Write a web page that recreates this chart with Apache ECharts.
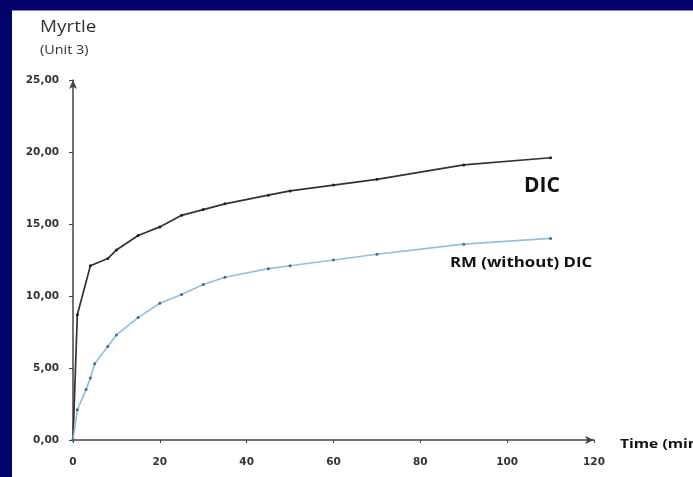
<!DOCTYPE html>
<html>
<head>
<meta charset="utf-8">
<script src="https://cdn.jsdelivr.net/npm/echarts@6/dist/echarts.min.js"></script>
<style>
html,body{margin:0;padding:0;background:#fff;}
#c{width:693px;height:477px;}
</style>
</head>
<body>
<div id="c"></div>
<script>
// Data
var dicX   = [0, 1, 4, 8, 10, 15, 20, 25, 30, 35, 45, 50, 60, 70, 90, 110];
var dicY   = [0, 8.7, 12.1, 12.6, 13.2, 14.2, 14.8, 15.6, 16.0, 16.4, 17.0, 17.3, 17.7, 18.1, 19.1, 19.6];
var rmX    = [0, 1, 3, 4, 5, 8, 10, 15, 20, 25, 30, 35, 45, 50, 60, 70, 90, 110];
var rmY    = [0, 2.1, 3.5, 4.3, 5.3, 6.5, 7.3, 8.5, 9.5, 10.1, 10.8, 11.3, 11.9, 12.1, 12.5, 12.9, 13.6, 14.0];
var seriesNames = ['DIC', 'RM (without) DIC'];
var yTitle = 'Myrtle';
var yUnit = '(Unit 3)';
var xTitle = 'Time (min)';

function pairs(xs, ys){ return xs.map(function(x,i){ return [x, ys[i]]; }); }

var font = '"Open Sans", "Liberation Sans", sans-serif';
var numFont = '"DejaVu Sans", sans-serif';
var chart = echarts.init(document.getElementById('c'));
chart.setOption({
  animation: false,
  backgroundColor: '#ffffff',
  grid: { left: 73, top: 80, right: 99, bottom: 37 },
  xAxis: {
    type: 'value', min: 0, max: 120, interval: 20,
    axisLine: { show: true, symbol: ['none', 'arrow'], symbolSize: [6, 9], lineStyle: { color: '#444', width: 1.5 } },
    axisTick: { show: true, length: 3, inside: false, lineStyle: { color: '#444' } },
    axisLabel: { margin: 17, fontFamily: numFont, fontSize: 10.5, fontWeight: 'bold', color: '#333' },
    splitLine: { show: false }
  },
  yAxis: {
    type: 'value', min: 0, max: 25, interval: 5,
    axisLine: { show: true, symbol: ['none', 'arrow'], symbolSize: [6, 9], lineStyle: { color: '#444', width: 1.5 } },
    axisTick: { show: true, length: 4, lineStyle: { color: '#444' } },
    axisLabel: { margin: 14, fontFamily: numFont, fontSize: 10.5, fontWeight: 'bold', color: '#333',
      formatter: function(v){ return v.toFixed(2).replace('.', ','); } },
    splitLine: { show: false }
  },
  series: [
    { name: seriesNames[0], type: 'line', data: pairs(dicX, dicY),
      symbol: 'circle', symbolSize: 3, showSymbol: true,
      lineStyle: { color: '#333', width: 1.7 }, itemStyle: { color: '#222' } },
    { name: seriesNames[1], type: 'line', data: pairs(rmX, rmY),
      symbol: 'circle', symbolSize: 3, showSymbol: true,
      lineStyle: { color: '#8fc1e0', width: 1.7 }, itemStyle: { color: '#4a6a80' } }
  ],
  graphic: [
    { type: 'rect', shape: { x: 0, y: 0, width: 693, height: 10 }, style: { fill: '#03036e' }, silent: true },
    { type: 'rect', shape: { x: 0, y: 10, width: 693, height: 1 }, style: { fill: '#8a8ab0' }, silent: true },
    { type: 'rect', shape: { x: 0, y: 0, width: 12, height: 477 }, style: { fill: '#03036e' }, silent: true },
    { type: 'text', x: 40, y: 19, scaleX: 1.18, style: { text: yTitle, font: '16px ' + font, fill: '#333' } },
    { type: 'text', x: 40, y: 45, scaleX: 1.2, style: { text: yUnit, font: '12px ' + font, fill: '#333' } },
    { type: 'text', x: 620, y: 438, scaleX: 1.2, style: { text: xTitle, font: 'bold 13px ' + font, fill: '#111' } },
    { type: 'text', x: 524, y: 176, style: { text: seriesNames[0], font: 'bold 21px ' + font, fill: '#111' } },
    { type: 'text', x: 450, y: 256, scaleX: 1.2, style: { text: seriesNames[1], font: 'bold 14px ' + font, fill: '#111' } }
  ]
});
</script>
</body>
</html>
